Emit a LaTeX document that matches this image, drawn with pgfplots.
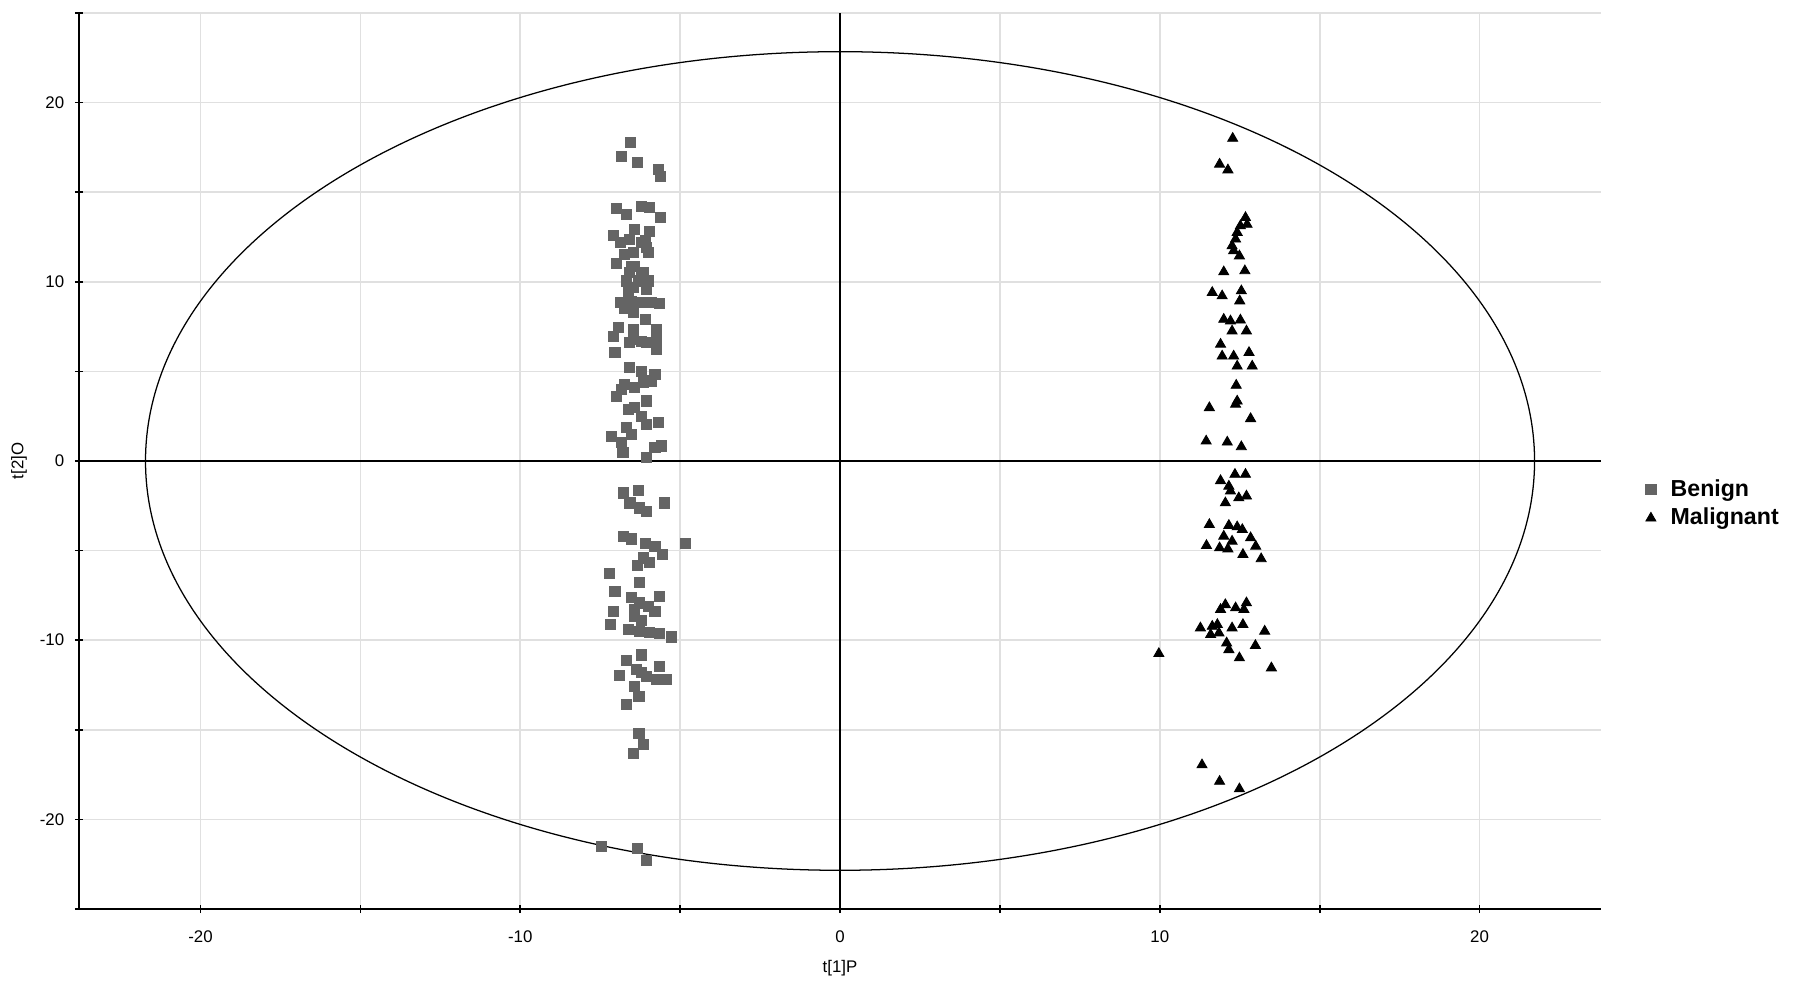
\documentclass[border=0pt]{standalone}
\usepackage{fontspec}
\setmainfont{Liberation Sans}
\usepackage{pgfplots}
\pgfplotsset{compat=1.18}
\definecolor{benigngray}{RGB}{100,100,100}
\definecolor{gridgray}{RGB}{224,224,224}

\begin{document}
\begin{tikzpicture}
\begin{axis}[
  scale only axis,
  width=723.3pt, height=425.8pt,
  xmin=-23.8, xmax=23.8,
  ymin=-25, ymax=25,
  axis x line*=bottom, axis y line*=left,
  axis line style={-, line width=1pt},
  xtick={-20,-15,...,20},
  xticklabels={-20,,-10,,0,,10,,20},
  ytick={-25,-20,...,25},
  yticklabels={,-20,,-10,,0,,10,,20,},
  tick align=center,
  major tick length=4pt,
  tick style={black, line width=0.8pt},
  grid=major,
  major grid style={draw=gridgray, line width=0.8pt},
  ticklabel style={font=\fontsize{8}{10}\selectfont},
  xticklabel style={yshift=-5pt},
  yticklabel style={xshift=-1.5pt},
  xlabel={t[1]P},
  ylabel={t[2]O},
  label style={font=\fontsize{8}{10}\selectfont},
  xlabel style={at={(axis description cs:0.5,0)}, anchor=center, yshift=-28pt},
  ylabel style={at={(axis description cs:0,0.5)}, anchor=center, yshift=28.5pt},
  legend style={at={(1.025,0.452)}, anchor=west, draw=none, fill=none,
    font=\bfseries\fontsize{11}{12}\selectfont, row sep=0pt, column sep=5pt},
  legend cell align=left,
]
\coordinate (sw) at (rel axis cs:0,0);
% zero lines and Hotelling ellipse
\addplot[black, line width=0.8pt, forget plot] coordinates {(0,-25) (0,25)};
\addplot[black, line width=0.8pt, forget plot] coordinates {(-23.8,0) (23.8,0)};
\draw[black, line width=0.6pt] (axis cs:0,0) ellipse [x radius=21.72, y radius=22.84];

\addplot[only marks, mark=square*, mark size=2.4pt, color=benigngray] coordinates {
(-6.55,17.8) (-6.84,17.0) (-6.34,16.66) (-5.67,16.25) (-5.62,15.9)
(-6.99,14.09) (-6.68,13.77) (-6.21,14.2) (-5.95,14.16) (-5.62,13.58)
(-7.10,12.6) (-6.42,12.93) (-5.95,12.83) (-6.58,12.37) (-6.21,12.19)
(-6.86,12.19) (-6.05,11.91) (-6.47,11.63) (-6.0,11.63) (-6.73,11.54)
(-6.99,11.04) (-6.1,12.28)
(-6.42,10.88) (-6.58,10.51) (-6.16,10.51) (-6.68,10.05) (-6.31,10.05)
(-6.0,10.05) (-6.47,9.68) (-6.05,9.58) (-6.62,9.49) (-6.21,10.33) (-6.52,10.88)
(-6.86,8.83) (-6.52,8.92) (-6.21,8.83) (-5.90,8.87) (-5.64,8.79) (-6.73,8.5)
(-6.47,8.28) (-6.1,7.9) (-6.94,7.45) (-7.1,6.97) (-6.47,7.34) (-6.47,6.78)
(-5.74,7.34) (-5.74,6.78) (-6.21,6.69) (-6.05,6.6) (-5.74,6.23) (-7.04,6.05)
(-6.58,6.6)
(-6.58,5.21) (-6.21,5.02) (-5.79,4.84) (-5.9,4.47) (-6.73,4.28) (-6.42,4.1)
(-6.16,4.38) (-6.99,3.62) (-6.84,3.99)
(-6.05,3.35) (-6.42,2.97) (-6.62,2.88) (-6.21,2.51) (-6.05,2.04) (-5.67,2.17)
(-6.68,1.86) (-6.52,1.49) (-7.15,1.39) (-6.84,1.02) (-6.79,0.46) (-6.05,0.18)
(-5.79,0.74) (-5.58,0.84)
(-6.78,-1.78) (-6.31,-1.63) (-6.57,-2.34) (-6.26,-2.62) (-6.05,-2.80) (-5.5,-2.34)
(-6.78,-4.2) (-6.52,-4.35) (-6.1,-4.61) (-5.79,-4.76) (-5.55,-5.22) (-4.84,-4.61)
(-6.16,-5.41) (-5.95,-5.65) (-6.34,-5.84) (-7.22,-6.28) (-6.26,-6.77)
(-7.04,-7.27) (-6.52,-7.59) (-5.66,-7.55) (-6.26,-7.92) (-6.0,-8.11)
(-5.79,-8.39) (-7.09,-8.39) (-6.42,-8.67) (-7.17,-9.13) (-6.62,-9.38)
(-6.26,-9.51) (-5.95,-9.56) (-5.64,-9.6) (-5.28,-9.82) (-6.42,-8.3) (-6.2,-8.9)
(-6.21,-10.82) (-6.68,-11.13) (-6.37,-11.65) (-5.64,-11.46) (-6.89,-11.98)
(-6.05,-12.02) (-5.74,-12.2) (-5.43,-12.2) (-6.42,-12.58) (-6.29,-13.14)
(-6.68,-13.6) (-6.2,-11.8)
(-6.29,-15.19) (-6.16,-15.84) (-6.47,-16.3)
(-7.46,-21.52) (-6.33,-21.6) (-6.05,-22.3)
};
\addlegendentry{Benign}

\addplot[only marks, mark=triangle*, mark size=2.75pt, color=black] coordinates {
(12.28,18.0) (11.87,16.56) (12.13,16.24)
(12.68,13.58) (12.52,13.12) (12.73,13.2) (12.42,12.75) (12.37,12.38)
(12.26,12.0) (12.31,11.73) (12.49,11.44)
(12.0,10.55) (12.66,10.61) (11.64,9.4) (11.95,9.21) (12.55,9.49) (12.5,8.93)
(12.0,7.9) (12.21,7.81) (12.52,7.86) (12.26,7.25) (12.71,7.25)
(11.9,6.51) (11.95,5.85) (12.31,5.85) (12.79,6.05) (12.42,5.29) (12.89,5.29)
(12.39,4.22) (12.42,3.34) (12.37,3.16) (11.55,2.97) (12.84,2.36)
(11.45,1.11) (12.11,1.05) (12.55,0.79)
(11.9,-1.1) (12.35,-0.75) (12.68,-0.75) (12.16,-1.41) (12.21,-1.68)
(12.47,-2.06) (12.71,-1.96) (12.05,-2.34)
(11.55,-3.55) (12.16,-3.6) (12.42,-3.68) (12.58,-3.83) (12.0,-4.2)
(12.26,-4.48) (12.84,-4.29) (13.0,-4.76) (11.46,-4.72) (11.87,-4.85)
(12.13,-4.91) (12.6,-5.22) (13.17,-5.46)
(12.05,-8.02) (12.37,-8.2) (12.71,-7.92) (11.9,-8.29) (12.63,-8.29)
(11.27,-9.32) (11.64,-9.23) (11.8,-9.13) (11.85,-9.6) (11.59,-9.69)
(12.26,-9.32) (12.6,-9.13) (13.28,-9.5)
(12.09,-10.16) (12.16,-10.53) (12.99,-10.3) (12.49,-10.99) (13.49,-11.55)
(9.97,-10.75)
(11.32,-16.96) (11.87,-17.88) (12.49,-18.3)
};
\addlegendentry{Malignant}
\end{axis}
\pgfresetboundingbox
\path (sw) ++(-37.54pt,-39.92pt) rectangle ++(853pt,471.88pt);
\end{tikzpicture}
\end{document}
